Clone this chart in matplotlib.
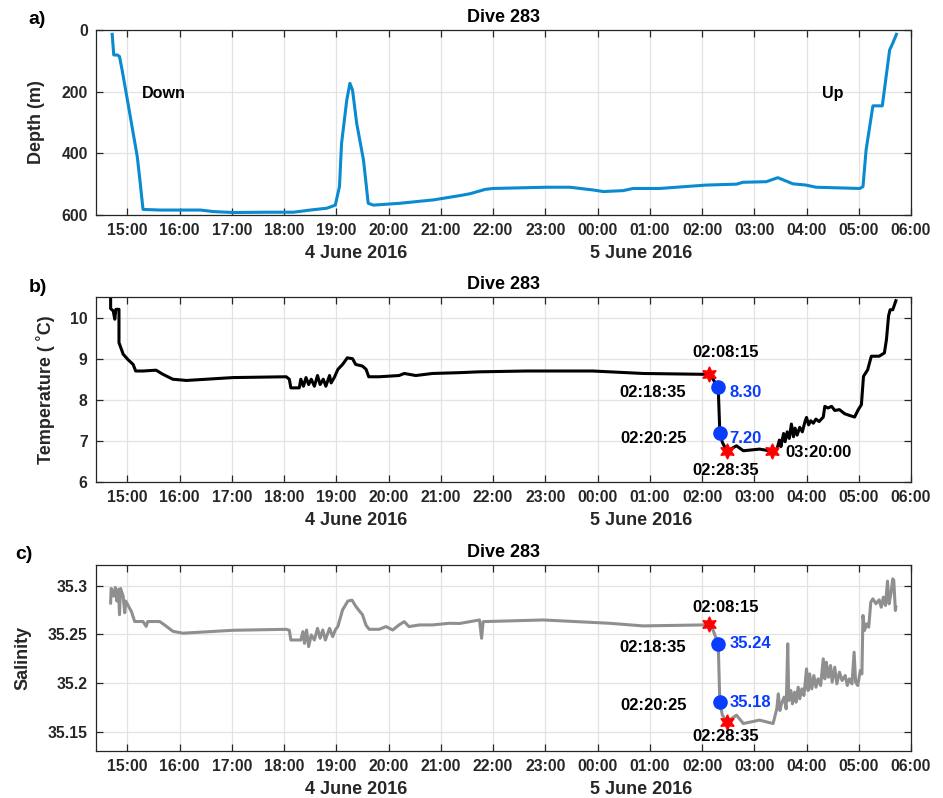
import matplotlib
matplotlib.use('Agg')
import matplotlib.pyplot as plt
import matplotlib.dates as mdates
import pandas as pd

plt.rcParams['font.family'] = ['Liberation Sans', 'DejaVu Sans']
plt.rcParams['font.weight'] = 'bold'

# hours since 4 June 2016 00:00
depth_h = [14.71, 14.74, 14.81, 14.85, 14.90, 14.99, 15.19, 15.24, 15.30, 15.63, 16.40,
           16.65, 17.03, 17.67, 18.18, 18.50, 18.82, 18.98, 19.06, 19.10, 19.20, 19.26,
           19.31, 19.39, 19.52, 19.61, 19.71, 20.22, 20.86, 21.37, 21.56, 21.85, 22.00,
           23.02, 23.47, 23.92, 24.11, 24.49, 24.68, 25.19, 25.51, 26.08, 26.66, 26.78,
           27.23, 27.45, 27.74, 27.99, 28.18, 29.02, 29.08, 29.14, 29.27, 29.45, 29.59,
           29.65, 29.72]
depth_m = [14, 81, 81, 86, 130, 216, 411, 486, 582, 584, 584,
           589, 592, 591, 591, 584, 578, 568, 508, 368, 227, 173,
           195, 303, 422, 562, 568, 562, 551, 537, 531, 517, 514,
           510, 510, 519, 524, 521, 514, 514, 510, 503, 500, 494,
           492, 479, 499, 503, 510, 514, 508, 389, 246, 246, 65,
           43, 14]

temp_h = [14.68, 14.68, 14.73, 14.76, 14.78, 14.84, 14.84, 14.92, 15.01, 15.11, 15.16,
          15.30, 15.55, 15.68, 15.87, 16.13, 17.02, 18.04, 18.10, 18.13, 18.29, 18.32,
          18.37, 18.42, 18.47, 18.52, 18.58, 18.64, 18.69, 18.75, 18.80, 18.87, 18.90,
          18.96, 19.03, 19.12, 19.21, 19.31, 19.37, 19.50, 19.57, 19.62, 19.82, 20.20,
          20.30, 20.52, 20.84, 21.36, 21.73, 22.64, 23.91, 24.87, 26.00, 26.1375, 26.21,
          26.3097, 26.3403, 26.39, 26.4764, 26.66, 26.79, 27.10, 27.3333,
          27.43, 27.48, 27.51, 27.56, 27.59, 27.63, 27.67, 27.71, 27.75, 27.78, 27.82,
          27.87, 27.92, 27.97, 28.00, 28.04, 28.08, 28.13, 28.18, 28.24, 28.32, 28.35,
          28.41, 28.48, 28.54, 28.63, 28.73, 28.82, 28.92, 28.99, 29.05, 29.09, 29.17,
          29.24, 29.39, 29.49, 29.53, 29.57, 29.60, 29.65, 29.71]
temp_c = [10.46, 10.22, 10.16, 9.96, 10.20, 10.20, 9.39, 9.11, 8.98, 8.86, 8.70,
          8.70, 8.72, 8.62, 8.50, 8.47, 8.54, 8.56, 8.50, 8.29, 8.29, 8.50,
          8.33, 8.54, 8.37, 8.50, 8.33, 8.59, 8.37, 8.50, 8.33, 8.59, 8.41,
          8.54, 8.74, 8.86, 9.02, 9.00, 8.86, 8.82, 8.74, 8.56, 8.56, 8.59,
          8.64, 8.59, 8.64, 8.66, 8.68, 8.70, 8.70, 8.64, 8.62, 8.63, 8.50,
          8.30, 7.20, 6.96, 6.75, 6.88, 6.76, 6.80, 6.75,
          6.78, 7.02, 6.86, 7.18, 6.98, 7.22, 7.06, 7.41, 7.10, 7.31, 7.14,
          7.33, 7.22, 7.47, 7.57, 7.39, 7.49, 7.43, 7.53, 7.47, 7.58, 7.84,
          7.80, 7.84, 7.74, 7.76, 7.66, 7.62, 7.58, 7.76, 7.88, 8.57, 8.73,
          9.06, 9.06, 9.14, 9.47, 10.04, 10.19, 10.19, 10.41]

sal_h = [14.68, 14.69, 14.74, 14.77, 14.80, 14.83, 14.85, 14.87, 14.92, 14.95, 14.97,
         15.08, 15.14, 15.30, 15.36, 15.39, 15.62, 15.75, 15.87, 16.06, 17.02, 18.04,
         18.10, 18.13, 18.32, 18.36, 18.39, 18.43, 18.47, 18.52, 18.58, 18.64, 18.69,
         18.74, 18.79, 18.87, 18.93, 18.98, 19.03, 19.12, 19.22, 19.30, 19.38, 19.50,
         19.57, 19.63, 19.82, 19.95, 20.08, 20.20, 20.30, 20.39, 20.59, 20.84, 21.16,
         21.36, 21.74, 21.78, 21.81, 22.96, 24.23, 24.87, 26.00, 26.1375, 26.21, 26.3097,
         26.3403, 26.39, 26.4764, 26.66, 26.79, 27.10, 27.36,
         27.43, 27.46, 27.49, 27.52, 27.57, 27.61, 27.64, 27.66, 27.70, 27.73, 27.77,
         27.80, 27.84, 27.87, 27.91, 27.95, 28.00, 28.03, 28.06, 28.10, 28.14, 28.18,
         28.22, 28.27, 28.32, 28.35, 28.38, 28.42, 28.46, 28.49, 28.54, 28.58, 28.63,
         28.68, 28.74, 28.78, 28.82, 28.87, 28.91, 28.94, 28.98, 29.03, 29.06, 29.08,
         29.11, 29.15, 29.19, 29.23, 29.27, 29.33, 29.39, 29.43, 29.47, 29.51, 29.55,
         29.58, 29.62, 29.65, 29.67, 29.70, 29.71]
sal_psu = [35.282, 35.297, 35.289, 35.298, 35.284, 35.296, 35.270, 35.297, 35.289, 35.272, 35.284,
           35.273, 35.263, 35.263, 35.258, 35.263, 35.263, 35.258, 35.253, 35.251, 35.254, 35.255,
           35.254, 35.244, 35.244, 35.2526, 35.2406, 35.2543, 35.2372, 35.2492, 35.2440, 35.2560, 35.2458,
           35.2543, 35.2440, 35.2560, 35.2475, 35.2543, 35.258, 35.275, 35.284, 35.285, 35.278, 35.270,
           35.259, 35.255, 35.255, 35.2578, 35.2543, 35.2595, 35.2629, 35.2578, 35.2595, 35.2595, 35.2612,
           35.261, 35.2646, 35.2458, 35.2629, 35.2646, 35.2612, 35.2585, 35.2595, 35.260, 35.2543, 35.24,
           35.18, 35.1668, 35.160, 35.1668, 35.1582, 35.1617, 35.1582,
           35.1733, 35.1887, 35.1716, 35.1784, 35.1853, 35.1733, 35.2401, 35.1819, 35.1921, 35.1784, 35.1904,
           35.1801, 35.1955, 35.1836, 35.1938, 35.1870, 35.2144, 35.1921, 35.2092, 35.1938, 35.2075, 35.1955,
           35.2041, 35.1973, 35.2247, 35.2041, 35.2212, 35.2058, 35.2178, 35.2007, 35.2161, 35.1990, 35.2110,
           35.2024, 35.2075, 35.1973, 35.2041, 35.1990, 35.2315, 35.2007, 35.1973, 35.2127, 35.2092, 35.2692,
           35.2538, 35.2606, 35.2572, 35.2829, 35.2863, 35.2812, 35.2853, 35.2777, 35.2880, 35.2795, 35.3045,
           35.2812, 35.2932, 35.3068, 35.3051, 35.2743, 35.2777]

# event markers: stars (change points) and dots (labelled values)
t_star_h = [26.1375, 26.4764, 27.3333]
t_star_v = [8.63, 6.75, 6.75]
t_star_lbl = ['02:08:15', '02:28:35', '03:20:00']
t_dot_h = [26.3097, 26.3403]
t_dot_v = [8.30, 7.20]
t_dot_lbl = ['02:18:35', '02:20:25']

s_star_h = [26.1375, 26.4764]
s_star_v = [35.260, 35.160]
s_star_lbl = ['02:08:15', '02:28:35']
s_dot_h = [26.3097, 26.3403]
s_dot_v = [35.24, 35.18]
s_dot_lbl = ['02:18:35', '02:20:25']

base = pd.Timestamp('2016-06-04')


def to_time(hours):
    return base + pd.to_timedelta(pd.Series(hours, dtype=float), unit='h')


def tpos(hh):
    return to_time([hh]).iloc[0]


def style_axis(ax):
    ax.set_xlim(tpos(14.4), tpos(30.0))
    ax.xaxis.set_major_locator(mdates.HourLocator())
    ax.xaxis.set_major_formatter(mdates.DateFormatter('%H:%M'))
    ax.grid(True, color='#e3e3e3', lw=0.9)
    ax.set_axisbelow(True)
    ax.tick_params(direction='in', top=True, right=True, length=5, width=0.9,
                   labelsize=11.3, colors='#262626', pad=6)
    for lab in ax.get_xticklabels() + ax.get_yticklabels():
        lab.set_fontweight('bold')
    for sp in ax.spines.values():
        sp.set_color('#262626')
        sp.set_linewidth(0.9)
    ax.set_title('Dive 283', fontsize=13, fontweight='bold', pad=6)
    for d, hh in (('4 June 2016', 19.38), ('5 June 2016', 24.84)):
        ax.annotate(d, xy=(tpos(hh), 0), xycoords=('data', 'axes fraction'),
                    xytext=(0, -27.5), textcoords='offset points', ha='center', va='center',
                    fontsize=13, fontweight='bold', color='#262626')


fig = plt.figure(figsize=(9.43, 7.98), dpi=100)
ax1 = fig.add_axes([0.1018, 0.7306, 0.8643, 0.2318])
ax2 = fig.add_axes([0.1018, 0.3960, 0.8643, 0.2318])
ax3 = fig.add_axes([0.1018, 0.0589, 0.8643, 0.2330])

# a) depth
ax1.plot(to_time(depth_h), depth_m, color='#0a8acf', lw=2.2)
ax1.set_ylim(600, 0)
ax1.set_yticks([0, 200, 400, 600])
ax1.set_ylabel('Depth (m)', fontsize=13, fontweight='bold', color='#262626')
ax1.yaxis.set_label_coords(-0.063, 0.5)
ax1.text(tpos(15.27), 205, 'Down', fontsize=11.6, fontweight='bold', va='center')
ax1.text(tpos(28.3), 205, 'Up', fontsize=11.6, fontweight='bold', va='center')
style_axis(ax1)

lbl_kw = dict(fontsize=12, fontweight='bold', va='center')

# b) temperature
ax2.plot(to_time(temp_h), temp_c, color='black', lw=2.2)
ax2.plot(to_time(t_dot_h), t_dot_v, 'o', color='#0a3cff', ms=9.5, ls='none')
ax2.plot(to_time(t_star_h), t_star_v, marker=(6, 1, 0), color='red', ms=11, ls='none')
ax2.set_ylim(6, 10.5)
ax2.set_yticks([6, 7, 8, 9, 10])
ax2.set_ylabel('Temperature ( \u02daC)', fontsize=13, fontweight='bold', color='#262626')
ax2.yaxis.set_label_coords(-0.050, 0.5)
ax2.text(tpos(25.81), 9.16, t_star_lbl[0], ha='left', **lbl_kw)
ax2.text(tpos(25.81), 6.29, t_star_lbl[1], ha='left', **lbl_kw)
ax2.text(tpos(27.60), 6.72, t_star_lbl[2], ha='left', **lbl_kw)
for hh, v, lab in zip(t_dot_h, t_dot_v, t_dot_lbl):
    ax2.text(tpos(25.70), v - 0.13, lab, ha='right', **lbl_kw)
    ax2.text(tpos(26.52), v - 0.13, '%.2f' % v, ha='left', color='#0a3cff', **lbl_kw)
style_axis(ax2)

# c) salinity
ax3.plot(to_time(sal_h), sal_psu, color='#8f8f8f', lw=2.2)
ax3.plot(to_time(s_dot_h), s_dot_v, 'o', color='#0a3cff', ms=9.5, ls='none')
ax3.plot(to_time(s_star_h), s_star_v, marker=(6, 1, 0), color='red', ms=11, ls='none')
ax3.set_ylim(35.13, 35.321)
ax3.set_yticks([35.15, 35.2, 35.25, 35.3])
ax3.set_yticklabels(['35.15', '35.2', '35.25', '35.3'])
ax3.set_ylabel('Salinity', fontsize=13, fontweight='bold', color='#262626')
ax3.yaxis.set_label_coords(-0.079, 0.5)
ax3.text(tpos(25.81), 35.277, s_star_lbl[0], ha='left', **lbl_kw)
ax3.text(tpos(25.81), 35.145, s_star_lbl[1], ha='left', **lbl_kw)
for hh, v, lab in zip(s_dot_h, s_dot_v, s_dot_lbl):
    ax3.text(tpos(25.70), v - 0.0035, lab, ha='right', **lbl_kw)
    ax3.text(tpos(26.52), v, '%.2f' % v, ha='left', color='#0a3cff', **lbl_kw)
style_axis(ax3)

for y, lab, x in ((0.975, 'a)', 0.030), (0.640, 'b)', 0.030), (0.305, 'c)', 0.016)):
    fig.text(x, y, lab, fontsize=14, fontweight='bold', va='center')

fig.savefig('out.png', dpi=100)
plt.close(fig)
